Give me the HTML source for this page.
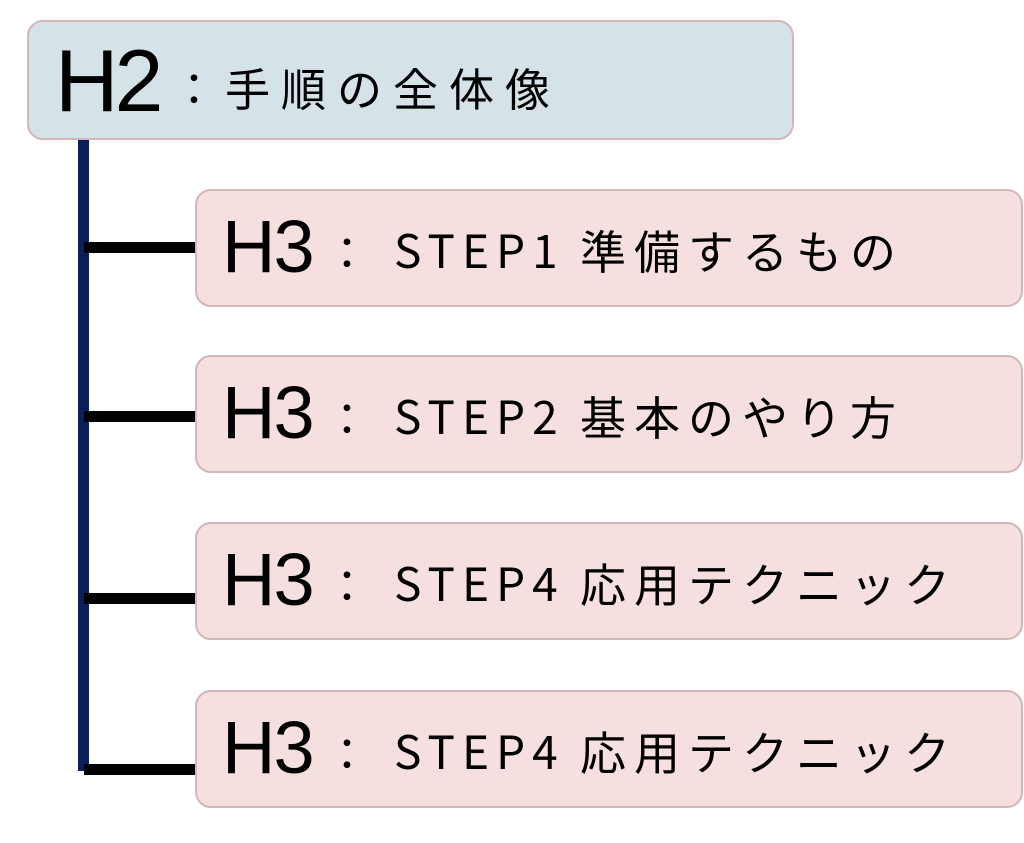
<!DOCTYPE html>
<html><head><meta charset="utf-8"><style>
body{margin:0;width:1024px;height:843px;background:#fff;position:relative;overflow:hidden;font-family:"Noto Sans CJK JP","Liberation Sans",sans-serif;color:#000}
.box{position:absolute;border:2px solid #d2b6b8;border-radius:16px;box-sizing:border-box}
.h2{left:27px;top:20px;width:767px;height:120px;background:#d5e2e8}
.h3{left:195px;width:828px;height:118px;background:#f6dfdf}
.t{position:absolute;white-space:nowrap;line-height:1}
.big{font-family:"Liberation Sans",sans-serif;font-weight:normal}
.line{position:absolute;background:#000}
.c{font-size:44px}
.s{font-size:46px;letter-spacing:7px}
.j{font-size:46px;letter-spacing:8px}
</style></head><body>
<div class="line" style="left:78px;top:139px;width:11px;height:632px;background:#0a1f5c"></div>
<div class="line" style="left:84px;top:242px;width:112px;height:11px"></div>
<div class="line" style="left:84px;top:411px;width:112px;height:11px"></div>
<div class="line" style="left:84px;top:593px;width:112px;height:11px"></div>
<div class="line" style="left:84px;top:764px;width:112px;height:11px"></div>

<div class="box h2"></div>
<div class="t big" style="left:55px;top:37px;font-size:88px;letter-spacing:-4px">H2</div>
<div class="t c" style="left:172px;top:64px">：</div>
<div class="t" style="left:225px;top:64px;font-size:45px;letter-spacing:11px">手順の全体像</div>

<div class="box h3" style="top:189px"></div>
<div class="t big" style="left:222px;top:210px;font-size:74px;letter-spacing:-2px">H3</div>
<div class="t c" style="left:325px;top:228px">：</div>
<div class="t s" style="left:394px;top:226px">STEP1</div>
<div class="t j" style="left:580px;top:227px">準備するもの</div>

<div class="box h3" style="top:355px"></div>
<div class="t big" style="left:222px;top:376px;font-size:74px;letter-spacing:-2px">H3</div>
<div class="t c" style="left:325px;top:394px">：</div>
<div class="t s" style="left:394px;top:392px">STEP2</div>
<div class="t j" style="left:580px;top:393px">基本のやり方</div>

<div class="box h3" style="top:522px"></div>
<div class="t big" style="left:222px;top:543px;font-size:74px;letter-spacing:-2px">H3</div>
<div class="t c" style="left:325px;top:561px">：</div>
<div class="t s" style="left:394px;top:559px">STEP4</div>
<div class="t j" style="left:580px;top:560px">応用テクニック</div>

<div class="box h3" style="top:690px"></div>
<div class="t big" style="left:222px;top:711px;font-size:74px;letter-spacing:-2px">H3</div>
<div class="t c" style="left:325px;top:729px">：</div>
<div class="t s" style="left:394px;top:727px">STEP4</div>
<div class="t j" style="left:580px;top:728px">応用テクニック</div>
</body></html>
